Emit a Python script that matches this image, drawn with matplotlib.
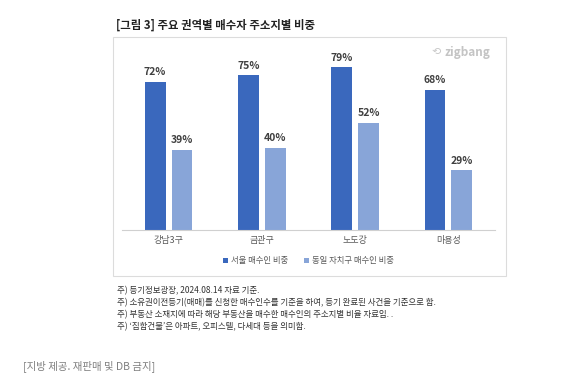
import matplotlib
matplotlib.use('Agg')
import matplotlib.pyplot as plt
import numpy as np
from matplotlib.patches import Rectangle

plt.rcParams['font.family'] = ['Noto Sans CJK KR', 'DejaVu Sans']

# Data
regions = ['강남3구', '금관구', '노도강', '마용성']
seoul_share = [72, 75, 79, 68]
same_gu_share = [39, 40, 52, 29]
series_names = ['서울 매수인 비중', '동일 자치구 매수인 비중']
notes = [
    '주) 등기정보광장, 2024.08.14 자료 기준.',
    '주) 소유권이전등기(매매)를 신청한 매수인수를 기준을 하여, 등기 완료된 사건을 기준으로 함.',
    '주) 부동산 소재지에 따라 해당 부동산을 매수한 매수인의 주소지별 비율 자료임. .',
    '주) ‘집합건물’은 아파트, 오피스텔, 다세대 등을 의미함.',
]

dark = '#3A68BD'
light = '#88A5D8'

fig = plt.figure(figsize=(5.62, 3.92), dpi=100)
fig.patch.set_facecolor('white')

# outer frame around the chart
fig.patches.append(Rectangle((0.201, 0.296), 0.699, 0.610, transform=fig.transFigure,
                             fill=False, edgecolor='#dcdcdc', linewidth=0.8))

ax = fig.add_axes([0.217, 0.413, 0.664, 0.447])
x = np.arange(len(regions))
w = 0.224
off = 0.144
b1 = ax.bar(x - off, seoul_share, w, color=dark, label=series_names[0])
b2 = ax.bar(x + off, same_gu_share, w, color=light, label=series_names[1])

for bars in (b1, b2):
    for r in bars:
        ax.text(r.get_x() + r.get_width() / 2, r.get_height() + 2.3, f'{int(r.get_height())}%',
                ha='center', va='bottom', fontsize=7.5, fontweight='bold', color='#404040')

ax.set_xlim(-0.5, 3.5)
ax.set_ylim(0, 85)
ax.set_yticks([])
ax.set_xticks(x)
ax.set_xticklabels(regions, fontsize=6.5, color='#595959')
ax.tick_params(axis='x', length=0, pad=4)
for s in ['top', 'right', 'left']:
    ax.spines[s].set_visible(False)
ax.spines['bottom'].set_color('#d0d0d0')
ax.spines['bottom'].set_linewidth(0.8)

ax.legend(loc='center', bbox_to_anchor=(0.5, -0.175), ncol=2, frameon=False,
          fontsize=6, labelcolor='#595959', handlelength=0.6, handleheight=0.6,
          handletextpad=0.3, columnspacing=2.0)

# title
fig.text(0.206, 0.936, '[그림 3] 주요 권역별 매수자 주소지별 비중', fontsize=8.2,
         fontweight='bold', color='#222222', ha='left', va='center')

# logo
fig.text(0.873, 0.867, 'zigbang', fontsize=8.5, color='#c4c4c4', ha='right',
         va='center', fontweight='bold')
fig.text(0.776, 0.867, '⟲', fontsize=8, color='#c8c8c8', ha='center', va='center',
         family=['DejaVu Sans'])

# footnotes
ys = [0.258, 0.227, 0.196, 0.166]
for yy, t in zip(ys, notes):
    fig.text(0.208, yy, t, fontsize=6.1, color='#333333', ha='left', va='center')

fig.text(0.041, 0.066, '[지방 제공. 재판매 및 DB 금지]', fontsize=7.5, color='#7f7f7f',
         ha='left', va='center')

fig.savefig('out.png', dpi=100, facecolor='white')
